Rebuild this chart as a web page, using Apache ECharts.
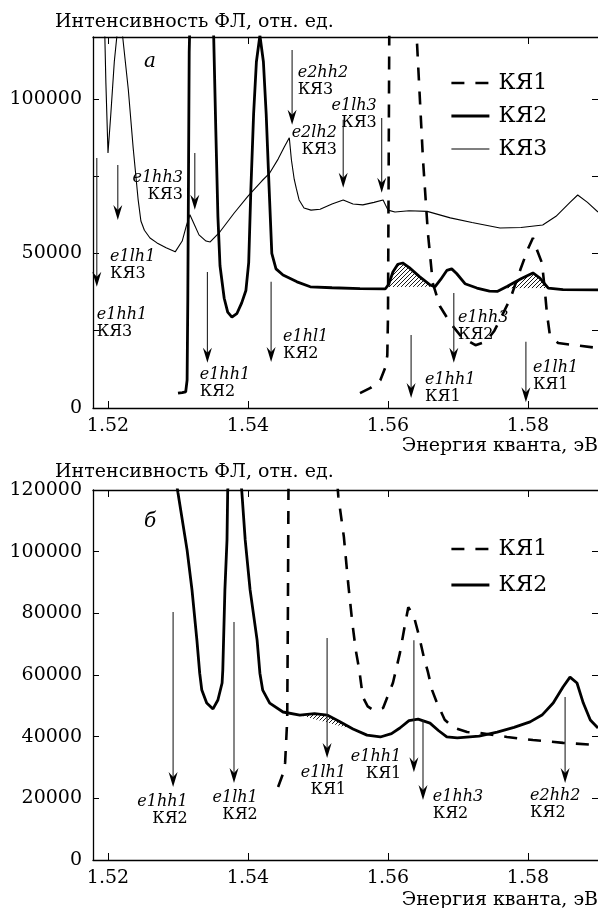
<!DOCTYPE html>
<html><head><meta charset="utf-8">
<script src="https://cdn.jsdelivr.net/npm/echarts@6/dist/echarts.min.js"></script>
<style>html,body{margin:0;padding:0;background:#fff}#c{width:598px;height:908px}</style>
</head><body><div id="c"></div>
<script>
// ---------- DATA (energy eV, intensity a.u.) ----------
const xTicks = [1.52, 1.54, 1.56, 1.58];
const yTicksTop = [0, 25000, 50000, 75000, 100000];
const yLabelsTop = [0, 50000, 100000];
const yTicksBot = [0, 20000, 40000, 60000, 80000, 100000, 120000];

// Panel a
const topQW1 = [[1.5560,4800],[1.5575,6500],[1.5589,9000],[1.5596,13000],[1.5599,17000],[1.5600,30000],[1.5601,80000],[1.5602,130000],[1.5620,140000],[1.5639,130000],[1.5641,120000],[1.5650,80300],[1.5657,56600],[1.5664,40400],[1.5674,33000],[1.5689,27500],[1.5705,23000],[1.5725,20300],[1.5740,21500],[1.5752,25000],[1.5762,29500],[1.5775,35500],[1.5789,44700],[1.5800,51500],[1.5807,55000],[1.5813,51000],[1.5820,46900],[1.5824,38200],[1.5827,30700],[1.5831,24000],[1.5843,21000],[1.5864,20400],[1.5900,19400]];
const topQW2 = [[1.5300,4800],[1.5306,5000],[1.5311,5200],[1.5313,9000],[1.5314,35000],[1.5315,75000],[1.5316,115000],[1.5318,135000],[1.5335,140000],[1.5349,130000],[1.5351,120000],[1.5354,90000],[1.5357,62000],[1.5360,46000],[1.5366,35500],[1.5371,31000],[1.5377,29400],[1.5384,30500],[1.5391,34000],[1.5397,38000],[1.5401,47000],[1.5404,70000],[1.5408,95000],[1.5412,112000],[1.5417,120500],[1.5422,112000],[1.5426,95000],[1.5430,72000],[1.5434,50000],[1.5440,45000],[1.5450,43000],[1.5470,40800],[1.5489,39200],[1.5520,38900],[1.5560,38600],[1.5596,38500],[1.5601,40000],[1.5607,44000],[1.5614,46500],[1.5621,46900],[1.5630,45500],[1.5645,42500],[1.5660,39800],[1.5667,39200],[1.5675,41500],[1.5684,44500],[1.5691,45000],[1.5698,43500],[1.5710,40200],[1.5727,38800],[1.5745,37800],[1.5756,37700],[1.5770,39300],[1.5790,41800],[1.5807,43700],[1.5817,42000],[1.5829,38800],[1.5850,38300],[1.5900,38200]];
const topQW3 = [[1.5193,130000],[1.5195,125000],[1.5197,105000],[1.5200,82500],[1.5204,95000],[1.5209,112000],[1.5213,121000],[1.5217,130000],[1.5221,120000],[1.5229,103000],[1.5236,84000],[1.5243,67500],[1.5247,60500],[1.5252,57500],[1.5260,55000],[1.5270,53400],[1.5283,51800],[1.5296,50500],[1.5306,54000],[1.5312,59000],[1.5317,62500],[1.5322,60000],[1.5330,56000],[1.5340,54000],[1.5346,53700],[1.5360,57000],[1.5380,63000],[1.5400,68500],[1.5420,73500],[1.5431,76000],[1.5443,80500],[1.5452,84500],[1.5459,87400],[1.5462,80300],[1.5466,74000],[1.5469,71000],[1.5473,67300],[1.5480,64700],[1.5490,64000],[1.5503,64300],[1.5520,66000],[1.5536,67300],[1.5550,66000],[1.5564,65700],[1.5580,66500],[1.5593,67300],[1.5600,64000],[1.5610,63400],[1.5630,63800],[1.5656,63600],[1.5689,61500],[1.5720,60000],[1.5760,58200],[1.5790,58400],[1.5821,59200],[1.5840,62000],[1.5860,66500],[1.5871,68900],[1.5885,66500],[1.5900,63400]];
const topHatch = [[1.5598,1.5667],[1.5765,1.5829]];
// arrows: [energy, from, to]
const topArrows = [[1.5184,80900,39200],[1.5214,78600,60800],[1.5324,82500,64100],[1.5342,44000,14600],[1.5433,40800,14900],[1.5463,115800,91600],[1.5536,93200,71200],[1.5591,93800,69600],[1.5633,23600,3200],[1.5694,37200,14600],[1.5797,21400,1900]];
// labels: [energy, intensity, transition, well, align]
const topLabels = [[1.5203,48900,'e1lh1','КЯ3','left'],[1.5184,30100,'e1hh1','КЯ3','left'],[1.5307,74400,'e1hh3','КЯ3','right'],[1.5331,10700,'e1hh1','КЯ2','left'],[1.5450,23000,'e1hl1','КЯ2','left'],[1.5471,108400,'e2hh2','КЯ3','left'],[1.5527,89000,'e2lh2','КЯ3','right'],[1.5584,97700,'e1lh3','КЯ3','right'],[1.5653,9100,'e1hh1','КЯ1','left'],[1.5700,29100,'e1hh3','КЯ2','left'],[1.5807,12900,'e1lh1','КЯ1','left']];

// Panel б
const botQW1 = [[1.5443,23700],[1.5450,28000],[1.5453,31500],[1.5456,45400],[1.5457,80000],[1.5458,130000],[1.5490,140000],[1.5525,130000],[1.5529,118000],[1.5537,104700],[1.5543,90000],[1.5549,77000],[1.5554,68000],[1.5559,61600],[1.5564,52900],[1.5571,49800],[1.5579,48600],[1.5593,49300],[1.5607,57400],[1.5617,67100],[1.5624,76000],[1.5629,82000],[1.5637,79000],[1.5644,73000],[1.5651,66000],[1.5657,61000],[1.5663,55100],[1.5670,50900],[1.5681,45500],[1.5693,43000],[1.5713,41500],[1.5731,41200],[1.5770,39900],[1.5807,38900],[1.5850,38000],[1.5900,37300]];
const botQW2 = [[1.5296,125000],[1.5300,119000],[1.5313,100500],[1.5320,87600],[1.5327,71300],[1.5331,60600],[1.5334,55100],[1.5341,50900],[1.5350,49000],[1.5357,51900],[1.5363,57400],[1.5364,61600],[1.5367,87600],[1.5370,103800],[1.5371,120000],[1.5381,140000],[1.5391,120000],[1.5396,103800],[1.5403,87600],[1.5413,71300],[1.5417,60600],[1.5421,55100],[1.5431,50900],[1.5450,48000],[1.5474,47000],[1.5495,47500],[1.5513,47000],[1.5530,45000],[1.5550,42500],[1.5570,40500],[1.5589,39900],[1.5605,41000],[1.5617,42800],[1.5630,45200],[1.5643,45700],[1.5660,44400],[1.5672,42000],[1.5684,39900],[1.5699,39600],[1.5730,40200],[1.5756,41500],[1.5780,43000],[1.5803,44800],[1.5820,47000],[1.5836,50900],[1.5850,56100],[1.5860,59300],[1.5870,57400],[1.5879,50900],[1.5889,45400],[1.5900,42800]];
const botHatch = [[1.5472,1.5553]];
const botArrows = [[1.5293,80400,23700],[1.5380,77200,25000],[1.5513,72000,33100],[1.5637,71300,28500],[1.5650,45400,19500],[1.5853,52900,25000]];
const botLabels = [[1.5314,18800,'e1hh1','КЯ2','right'],[1.5414,20100,'e1lh1','КЯ2','right'],[1.5540,28200,'e1lh1','КЯ1','right'],[1.5619,33400,'e1hh1','КЯ1','right'],[1.5664,20400,'e1hh3','КЯ2','left'],[1.5803,20800,'e2hh2','КЯ2','left']];

// ---------- CHART ----------
const FONT = '"DejaVu Serif", serif';
const X_MIN = 1.52 - 15/7000, X_MAX = 1.59;

function interp(curve, e){
  for (let i=0;i<curve.length-1;i++){
    const a=curve[i], b=curve[i+1];
    if (e>=a[0] && e<=b[0]) return a[1]+(b[1]-a[1])*(e-a[0])/(b[0]-a[0]);
  }
  return curve[curve.length-1][1];
}
function hatchPattern(){
  const c=document.createElement('canvas'); c.width=4; c.height=4;
  const g=c.getContext('2d'); g.strokeStyle='#000'; g.lineWidth=0.9;
  g.beginPath(); g.moveTo(0,4); g.lineTo(4,0); g.moveTo(-1,1); g.lineTo(1,-1); g.moveTo(3,5); g.lineTo(5,3); g.stroke();
  return c;
}
const PAT = {image: hatchPattern(), repeat: 'repeat'};

function hatchSeries(curve, ranges, xi, yi){
  return {type:'custom', xAxisIndex:xi, yAxisIndex:yi, silent:true, z:1,
    data: ranges.map(r=>[r[0], r[1], 0]), encode:{x:[0,1], y:2},
    renderItem:(params, api)=>{
      const e1=api.value(0), e2=api.value(1);
      const pts=[[e1, interp(curve,e1)]];
      curve.forEach(p=>{ if(p[0]>e1 && p[0]<e2) pts.push(p); });
      pts.push([e2, interp(curve,e2)]);
      return {type:'polygon', shape:{points: pts.map(p=>api.coord(p))}, style:{fill:PAT, stroke:null}};
    }};
}
function arrowSeries(arr, xi, yi){
  return {type:'custom', xAxisIndex:xi, yAxisIndex:yi, silent:true, z:5,
    data: arr, encode:{x:0, y:[1,2]},
    renderItem:(params, api)=>{
      const p1=api.coord([api.value(0), api.value(1)]);
      const p2=api.coord([api.value(0), api.value(2)]);
      const x=p1[0], t=p2[1];
      return {type:'group', children:[
        {type:'line', shape:{x1:x, y1:p1[1], x2:x, y2:t-8}, style:{stroke:'#222', lineWidth:1.1}},
        {type:'polygon', shape:{points:[[x,t],[x-4.5,t-15],[x,t-10],[x+4.5,t-15]]}, style:{fill:'#000'}}
      ]};
    }};
}
function labelSeries(arr, xi, yi){
  return {type:'custom', xAxisIndex:xi, yAxisIndex:yi, silent:true, z:6,
    data: arr.map(l=>[l[0], l[1]]), encode:{x:0, y:1},
    renderItem:(params, api)=>{
      const l=arr[params.dataIndex];
      const p=api.coord([api.value(0), api.value(1)]);
      return {type:'group', children:[
        {type:'text', x:p[0], y:p[1], style:{text:l[2], fontSize:16, fontStyle:'italic', fontFamily:FONT, fill:'#000', align:l[4], verticalAlign:'middle'}},
        {type:'text', x:p[0], y:p[1]+17, style:{text:l[3], fontSize:16, fontFamily:FONT, fill:'#000', align:l[4], verticalAlign:'middle'}}
      ]};
    }};
}

const axisLineStyle = {color:'#000', width:1.3};
function xAxes(gi){
  return [
    {type:'value', gridIndex:gi, min:X_MIN, max:X_MAX, position:'bottom',
     axisLine:{show:true, lineStyle:axisLineStyle, onZero:false},
     axisTick:{show:true, inside:true, length:7, customValues:xTicks, lineStyle:{color:'#000', width:1}},
     axisLabel:{show:true, customValues:xTicks, formatter:v=>v.toFixed(2), fontSize:19, fontFamily:FONT, color:'#000', margin:9},
     splitLine:{show:false}},
    {type:'value', gridIndex:gi, min:X_MIN, max:X_MAX, position:'top',
     axisLine:{show:true, lineStyle:axisLineStyle, onZero:false},
     axisTick:{show:true, inside:true, length:7, customValues:xTicks, lineStyle:{color:'#000', width:1}},
     axisLabel:{show:false}, splitLine:{show:false}}
  ];
}
function yAxes(gi, ticks, labels){
  return [
    {type:'value', gridIndex:gi, min:0, max:120000, position:'left',
     axisLine:{show:true, lineStyle:axisLineStyle, onZero:false},
     axisTick:{show:true, inside:true, length:6, customValues:ticks, lineStyle:{color:'#000', width:1}},
     axisLabel:{show:true, customValues:labels, formatter:v=>String(v), fontSize:19, fontFamily:FONT, color:'#000', margin:11},
     splitLine:{show:false}},
    {type:'value', gridIndex:gi, min:0, max:120000, position:'right',
     axisLine:{show:false},
     axisTick:{show:true, inside:true, length:6, customValues:ticks, lineStyle:{color:'#000', width:1}},
     axisLabel:{show:false}, splitLine:{show:false}}
  ];
}
const dashed = {color:'#000', width:2.6, type:[13,11]};
const thick = {color:'#000', width:2.8};
const thin = {color:'#000', width:1.1};
function line(name, data, style, xi, yi){
  return {type:'line', name, data, xAxisIndex:xi, yAxisIndex:yi, symbol:'none', showSymbol:false, smooth:false,
    lineStyle:style, itemStyle:{color:'#000'}, z:3, clip:true, silent:true};
}
const legendItems = {
  'КЯ1': {name:'КЯ1', lineStyle:{color:'#000', width:2.6, type:[13,11]}},
  'КЯ2': {name:'КЯ2', lineStyle:{color:'#000', width:2.8, type:'solid'}},
  'КЯ3': {name:'КЯ3', lineStyle:{color:'#000', width:1.1, type:'solid'}}
};
const legendCommon = {orient:'vertical', itemWidth:38, itemHeight:14, selectedMode:false,
  itemStyle:{color:'rgba(0,0,0,0)', borderColor:'rgba(0,0,0,0)', borderWidth:0, opacity:0},
  textStyle:{fontSize:22, fontFamily:FONT, color:'#000', lineHeight:20, padding:[0,0,0,4]}};

const chart = echarts.init(document.getElementById('c'), null, {renderer:'canvas'});
chart.setOption({
  animation:false,
  backgroundColor:'#fff',
  grid:[{left:93, top:37, width:505, height:371}, {left:93, top:490, width:505, height:370}],
  xAxis:[...xAxes(0), ...xAxes(1)],
  yAxis:[...yAxes(0, yTicksTop, yLabelsTop), ...yAxes(1, yTicksBot, yTicksBot)],
  legend:[
    Object.assign({data:['КЯ1','КЯ2','КЯ3'].map(n=>legendItems[n]), left:445, top:67, itemGap:11}, legendCommon),
    Object.assign({data:['КЯ1','КЯ2'].map(n=>legendItems[n]), left:445, top:533, itemGap:14}, legendCommon)
  ],
  graphic:[
    {type:'text', x:55, y:22, style:{text:'Интенсивность ФЛ, отн. ед.', fontSize:19, fontFamily:FONT, fill:'#000', align:'left', verticalAlign:'middle'}},
    {type:'text', x:598, y:446, style:{text:'Энергия кванта, эВ', fontSize:19, fontFamily:FONT, fill:'#000', align:'right', verticalAlign:'middle'}},
    {type:'text', x:55, y:472, style:{text:'Интенсивность ФЛ, отн. ед.', fontSize:19, fontFamily:FONT, fill:'#000', align:'left', verticalAlign:'middle'}},
    {type:'text', x:598, y:900, style:{text:'Энергия кванта, эВ', fontSize:19, fontFamily:FONT, fill:'#000', align:'right', verticalAlign:'middle'}},
    {type:'text', x:150, y:62, style:{text:'а', fontSize:20, fontStyle:'italic', fontFamily:FONT, fill:'#000', align:'center', verticalAlign:'middle'}},
    {type:'text', x:150, y:522, style:{text:'б', fontSize:20, fontStyle:'italic', fontFamily:FONT, fill:'#000', align:'center', verticalAlign:'middle'}}
  ],
  series:[
    line('КЯ1', topQW1, dashed, 0, 0),
    line('КЯ2', topQW2, thick, 0, 0),
    line('КЯ3', topQW3, thin, 0, 0),
    hatchSeries(topQW2, topHatch, 0, 0),
    arrowSeries(topArrows, 0, 0),
    labelSeries(topLabels, 0, 0),
    line('КЯ1', botQW1, dashed, 2, 2),
    line('КЯ2', botQW2, thick, 2, 2),
    hatchSeries(botQW2, botHatch, 2, 2),
    arrowSeries(botArrows, 2, 2),
    labelSeries(botLabels, 2, 2)
  ]
});
</script></body></html>
